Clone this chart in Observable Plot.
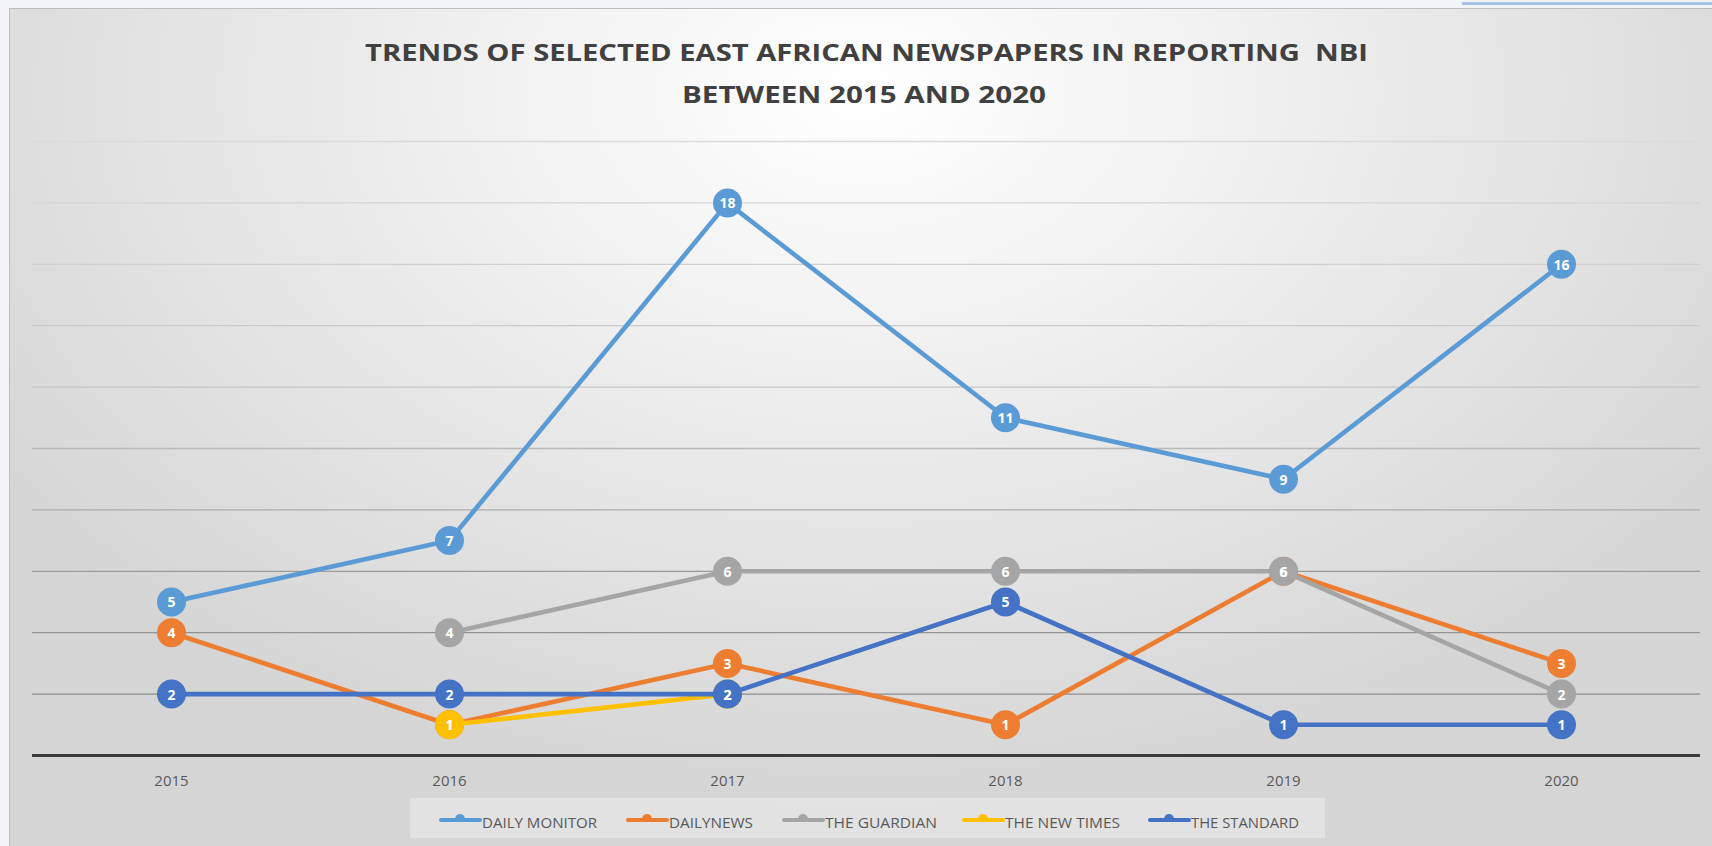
<!DOCTYPE html>
<html>
<head>
<meta charset="utf-8">
<script src="https://cdn.jsdelivr.net/npm/d3@7"></script>
<script src="https://cdn.jsdelivr.net/npm/@observablehq/plot@0.6"></script>
<style>
html, body { margin: 0; padding: 0; width: 1712px; height: 846px; overflow: hidden; background: #f3f4f8; }
#topbar { position: absolute; left: 1462px; top: 2px; width: 250px; height: 3px; background: #a9c0e6; }
#frame {
  position: absolute; left: 9px; top: 8px; width: 1703px; height: 838px; box-sizing: border-box;
  border-top: 1px solid #bdbdbd; border-left: 1px solid #bdbdbd; overflow: hidden;
  background: radial-gradient(ellipse 62% 85% at 50% 10%, #ffffff 0%, #f3f3f3 30%, #e4e4e4 65%, #d5d5d5 100%);
}
.title { position: absolute; white-space: nowrap; font-family: "Open Sans", sans-serif; font-weight: 700;
  font-size: 24px; line-height: 1; color: #404040; }
#chart { position: absolute; left: 0; top: 110px; }
#legend { position: absolute; left: 400px; top: 789px; width: 915px; height: 40px; background: rgba(255,255,255,0.32); }
.lg-line { position: absolute; height: 4px; border-radius: 2px; }
.lg-bump { position: absolute; width: 10px; height: 5px; border-radius: 5px 5px 0 0; }
.lg-text { position: absolute; white-space: nowrap; font-family: "Open Sans", sans-serif; font-size: 14px; line-height: 1; color: #595959; }
</style>
</head>
<body>
<div id="topbar"></div>
<div id="frame">
  <div class="title" id="t1">TRENDS OF SELECTED EAST AFRICAN NEWSPAPERS IN REPORTING&nbsp; NBI</div>
  <div class="title" id="t2">BETWEEN 2015 AND 2020</div>
  <div id="chart"></div>
  <div id="legend"></div>
</div>
<script>
// ---- data ----
const years = ["2015", "2016", "2017", "2018", "2019", "2020"];
const seriesNames = ["DAILY MONITOR", "DAILYNEWS", "THE GUARDIAN", "THE NEW TIMES", "THE STANDARD"];
const dailyMonitor = [5, 7, 18, 11, 9, 16];
const dailyNews = [4, 1, 3, 1, 6, 3];
const theGuardian = [null, 4, 6, 6, 6, 2];
const theNewTimes = [null, 1, 2, null, null, null];
const theStandard = [2, 2, 2, 5, 1, 1];
const gridTicks = [2, 4, 6, 8, 10, 12, 14, 16, 18, 20];

// ---- styles ----
const seriesColors = ["#5b9bd5", "#ed7d31", "#a5a5a5", "#ffc000", "#4472c4"];
const seriesValues = [dailyMonitor, dailyNews, theGuardian, theNewTimes, theStandard];

const rows = [];
seriesNames.forEach((name, i) => {
  seriesValues[i].forEach((v, j) => {
    if (v != null) rows.push({series: name, order: i, year: years[j], value: v});
  });
});

const gridShade = d3.scaleLinear().domain([2, 6, 8, 12, 20])
  .range(["#8c8c8c", "#9a9a9a", "#ababab", "#c6c6c6", "#dadada"]);

const marks = [
  Plot.ruleY(gridTicks, {stroke: d => gridShade(d), strokeWidth: 1.3}),
  Plot.ruleY([0], {stroke: "#3c3c3c", strokeWidth: 3}),
  Plot.axisX({tickSize: 0, tickPadding: 20, fontSize: 15, fill: "#595959", fontFamily: "Open Sans", label: null})
];
seriesNames.forEach((name, i) => {
  const d = rows.filter(r => r.series === name);
  marks.push(Plot.line(d, {x: "year", y: "value", stroke: seriesColors[i], strokeWidth: 4.6, strokeLinejoin: "round"}));
  marks.push(Plot.dot(d, {x: "year", y: "value", r: 14.5, fill: seriesColors[i], stroke: "none"}));
});
marks.push(Plot.text(rows, {x: "year", y: "value", text: d => String(d.value), fill: "#ffffff",
  fontWeight: 700, fontSize: 14, fontFamily: "Open Sans", dy: 1}));

const chart = Plot.plot({
  width: 1702,
  height: 680,
  marginTop: 22,
  marginBottom: 44,
  marginLeft: 22,
  marginRight: 12,
  style: {background: "transparent", fontFamily: "Open Sans"},
  x: {type: "point", domain: years, padding: 0.5, axis: null, label: null},
  y: {domain: [0, 20], axis: null},
  marks
});
document.getElementById("chart").appendChild(chart);

// ---- title fitting ----
function place(el, cx, cy, targetW) {
  el.style.left = "0px"; el.style.top = "0px";
  const w = el.getBoundingClientRect().width;
  const s = targetW / w;
  el.style.transformOrigin = "0 0";
  el.style.transform = `scaleX(${s})`;
  el.style.left = (cx - targetW / 2) + "px";
  el.style.top = (cy - el.getBoundingClientRect().height / 2) + "px";
}
place(document.getElementById("t1"), 856, 43, 1003);
place(document.getElementById("t2"), 854, 85, 364);

// ---- legend ----
const legend = document.getElementById("legend");
const swatchX = [29, 216, 372, 552, 738];
const textW = [115, 84, 112, 115, 108];
seriesNames.forEach((name, i) => {
  const line = document.createElement("div");
  line.className = "lg-line";
  line.style.left = swatchX[i] + "px"; line.style.width = "43px"; line.style.top = "20px";
  line.style.background = seriesColors[i];
  legend.appendChild(line);
  const bump = document.createElement("div");
  bump.className = "lg-bump";
  bump.style.left = (swatchX[i] + 16) + "px"; bump.style.top = "16px";
  bump.style.background = seriesColors[i];
  legend.appendChild(bump);
  const t = document.createElement("div");
  t.className = "lg-text";
  t.textContent = name;
  legend.appendChild(t);
  const w = t.getBoundingClientRect().width;
  t.style.transformOrigin = "0 0";
  t.style.transform = `scaleX(${textW[i] / w})`;
  t.style.left = (swatchX[i] + 43) + "px";
  t.style.top = (25 - t.getBoundingClientRect().height / 2) + "px";
});
</script>
</body>
</html>
